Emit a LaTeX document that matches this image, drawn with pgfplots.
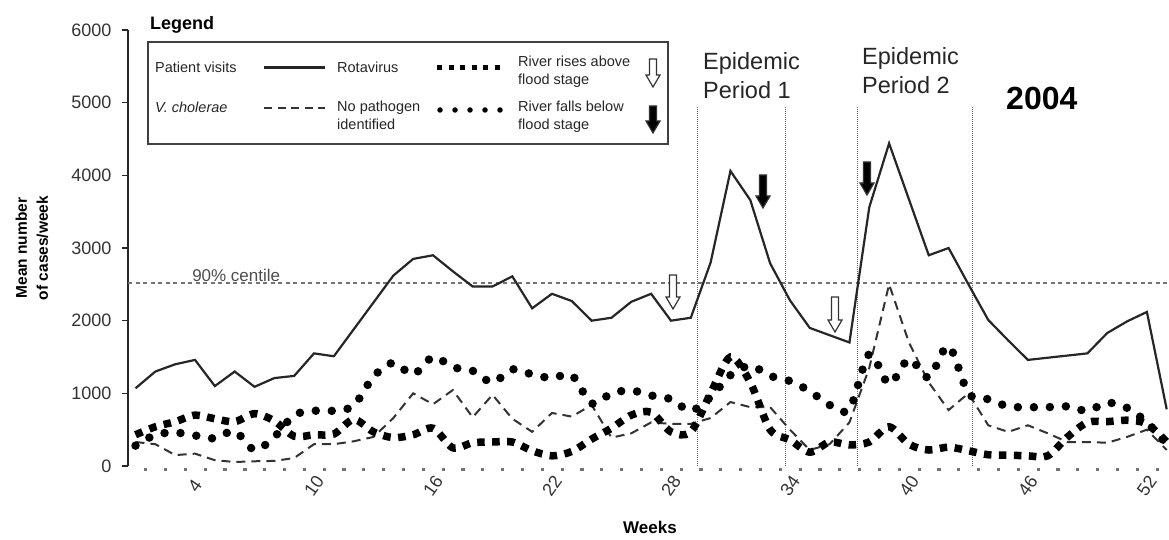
\documentclass[border=0pt]{standalone}
\usepackage{pgfplots}
\pgfplotsset{compat=1.18}
\usepackage{pgfplotstable}
\usepackage{fontspec}
\setmainfont{Liberation Sans}

% weekly means, 2004: patient visits, rotavirus, V. cholerae, no pathogen
\pgfplotstableread{
week visits rota chol nopath
1  1070  430  330  280
2  1300  540  300  430
3  1400  610  150  460
4  1460  700  170  420
5  1100  650   80  380
6  1300  610   55  480
7  1090  720   65  220
8  1210  620   70  400
9  1240  410  110  700
10 1550  430  300  760
11 1510  440  300  760
12 1880  640  340  830
13 2250  470  400 1230
14 2620  390  660 1420
15 2850  430 1000 1260
16 2900  520  850 1500
17 2680  250 1045 1360
18 2470  320  670 1310
19 2470  330  980 1150
20 2610  330  650 1330
21 2170  210  470 1260
22 2370  140  730 1210
23 2270  200  680 1250
24 2000  370  840  860
25 2040  520  390 1000
26 2260  700  450 1040
27 2370  740  600  970
28 2000  470  580  920
29 2040  470  580  760
30 2800 1000  660  950
31 4060 1500  880 1250
32 3660 1150  810 1380
33 2790  500  810 1240
34 2280  360  500 1170
35 1900  190  220 1030
36 1800  330  300  840
37 1700  290  600  780
38 3560  330 1350 1540
39 4440  540 2500 1130
40 3670  300 1700 1470
41 2900  220 1150 1220
42 3000  260  770 1650
43 2500  210 1000 1000
44 2010  155  560  920
45 1730  150  470  820
46 1460  140  560  810
47 1490  140  450  810
48 1520  400  330  820
49 1550  600  330  760
50 1830  610  320  870
51 1990  630  400  800
52 2120  580  500  600
53  780  330  220  300
}\weekly

\newcommand{\riverarrow}[4][white]{%
  \draw[line width=1.2pt, black!80, fill=#1]
    ({#2-3.5},#3) -- ({#2-3.5},{#4-12}) -- ({#2-7},{#4-12}) -- (#2,#4)
    -- ({#2+7},{#4-12}) -- ({#2+3.5},{#4-12}) -- ({#2+3.5},#3) -- cycle;}

\begin{document}
\begin{tikzpicture}
\useasboundingbox (0,0) rectangle (1169pt,539pt);
\begin{axis}[
    at={(128pt,73pt)}, anchor=south west,
    scale only axis, width=1040.7pt, height=436pt,
    xmin=0.62, xmax=53.1, ymin=0, ymax=6000,
    clip=false,
    axis x line*=bottom, axis y line*=left,
    x axis line style={draw=none},
    y axis line style={-, line width=2pt, black!85},
    xtick={4,10,...,52}, ytick={0,1000,...,6000},
    xtick style={draw=none},
    ytick style={line width=1.5pt, black!85},
    tick align=outside, major tick length=6pt,
    xticklabel style={rotate=55, anchor=center, black!80},
    xticklabel shift=14pt,
    yticklabel style={black!80},
    yticklabel shift=7pt,
    ticklabel style={font=\fontsize{18}{20}\selectfont},
    /pgf/number format/assume math mode=true,
    /pgf/number format/1000 sep={},
]
% week boundary dots along the x axis
\addplot[only marks, mark=square*, mark size=1.1pt, black!55] coordinates {
(1.5,-45) (2.5,-45) (3.5,-45) (4.5,-45) (5.5,-45) (6.5,-45) (7.5,-45) (8.5,-45)
(9.5,-45) (10.5,-45) (11.5,-45) (12.5,-45) (13.5,-45) (14.5,-45) (15.5,-45)
(16.5,-45) (17.5,-45) (18.5,-45) (19.5,-45) (20.5,-45) (21.5,-45) (22.5,-45)
(23.5,-45) (24.5,-45) (25.5,-45) (26.5,-45) (27.5,-45) (28.5,-45) (29.5,-45)
(30.5,-45) (31.5,-45) (32.5,-45) (33.5,-45) (34.5,-45) (35.5,-45) (36.5,-45)
(37.5,-45) (38.5,-45) (39.5,-45) (40.5,-45) (41.5,-45) (42.5,-45) (43.5,-45)
(44.5,-45) (45.5,-45) (46.5,-45) (47.5,-45) (48.5,-45) (49.5,-45) (50.5,-45)
(51.5,-45) (52.5,-45)};

% 90% centile and epidemic period limits
\addplot[black!55, line width=1.5pt, dash pattern=on 4pt off 3.5pt] coordinates {(0.62,2520) (53.1,2520)};
\addplot[black!60, line width=1pt, densely dotted] coordinates {(29.36,0) (29.36,4940)};
\addplot[black!60, line width=1pt, densely dotted] coordinates {(33.8,0) (33.8,4940)};
\addplot[black!60, line width=1pt, densely dotted] coordinates {(37.43,0) (37.43,4940)};
\addplot[black!60, line width=1pt, densely dotted] coordinates {(43.23,0) (43.23,4940)};
\node[anchor=base west, inner sep=0pt, black!70, font=\fontsize{17}{20}\selectfont] at (axis cs:3.85,2545) {90\% centile};

\addplot[black!80, line width=2pt, dash pattern=on 9pt off 6pt] table[x=week, y=chol] {\weekly};
\addplot[black, line width=7.5pt, dash pattern=on 7.5pt off 7.5pt, smooth, tension=0.5] table[x=week, y=rota] {\weekly};
\addplot[black, line width=8.5pt, line cap=round, dash pattern=on 0pt off 16pt, smooth, tension=0.5] table[x=week, y=nopath] {\weekly};
\addplot[black!85, line width=2.2pt] table[x=week, y=visits] {\weekly};
\end{axis}

\begin{scope}[x=1pt, y=-1pt, shift={(0pt,539pt)}]
  \tikzset{lbl/.style={anchor=base west, inner sep=0pt}}
  % axis titles
  \node[rotate=90, align=center, font=\bfseries\fontsize{15.5}{21}\selectfont] at (32,248) {Mean number\\of cases/week};
  \node[font=\bfseries\fontsize{17}{20}\selectfont] at (650,527) {Weeks};
  % period labels
  \node[lbl, black!85, font=\fontsize{23.5}{26}\selectfont] at (703,70) {Epidemic};
  \node[lbl, black!85, font=\fontsize{23.5}{26}\selectfont] at (703,99) {Period 1};
  \node[lbl, black!85, font=\fontsize{23.5}{26}\selectfont] at (862,65) {Epidemic};
  \node[lbl, black!85, font=\fontsize{23.5}{26}\selectfont] at (862,94) {Period 2};
  \node[lbl, font=\bfseries\fontsize{32}{36}\selectfont] at (1006,110) {2004};
  % river arrows
  \riverarrow{673}{275}{309}
  \riverarrow{835}{297}{332}
  \riverarrow[black]{763}{175}{208}
  \riverarrow[black]{867}{162}{195}
  % legend
  \node[lbl, font=\bfseries\fontsize{18}{20}\selectfont] at (150,30) {Legend};
  \draw[line width=2pt, black!75] (148,42) rectangle (668,144);
  \begin{scope}[font=\fontsize{14.5}{17}\selectfont, black!85]
    \node[lbl] at (155,73) {Patient visits};
    \node[lbl] at (337,73) {Rotavirus};
    \node[lbl] at (518,67) {River rises above};
    \node[lbl] at (518,85) {flood stage};
    \node[lbl] at (155,113) {\itshape V. cholerae};
    \node[lbl] at (337,112) {No pathogen};
    \node[lbl] at (337,130) {identified};
    \node[lbl] at (518,112) {River falls below};
    \node[lbl] at (518,130) {flood stage};
  \end{scope}
  \draw[black!85, line width=3pt] (264,68) -- (325,68);
  \draw[black, line width=5pt, dash pattern=on 5pt off 6.5pt] (437,68) -- (500,68);
  \draw[black!80, line width=1.8pt, dash pattern=on 8pt off 5.5pt] (264,108) -- (325,108);
  \draw[black, line width=5.5pt, line cap=round, dash pattern=on 0pt off 15pt] (440,110) -- (500,110);
  \riverarrow{653}{59}{87}
  \riverarrow[black]{653}{106}{133}
\end{scope}
\end{tikzpicture}
\end{document}
